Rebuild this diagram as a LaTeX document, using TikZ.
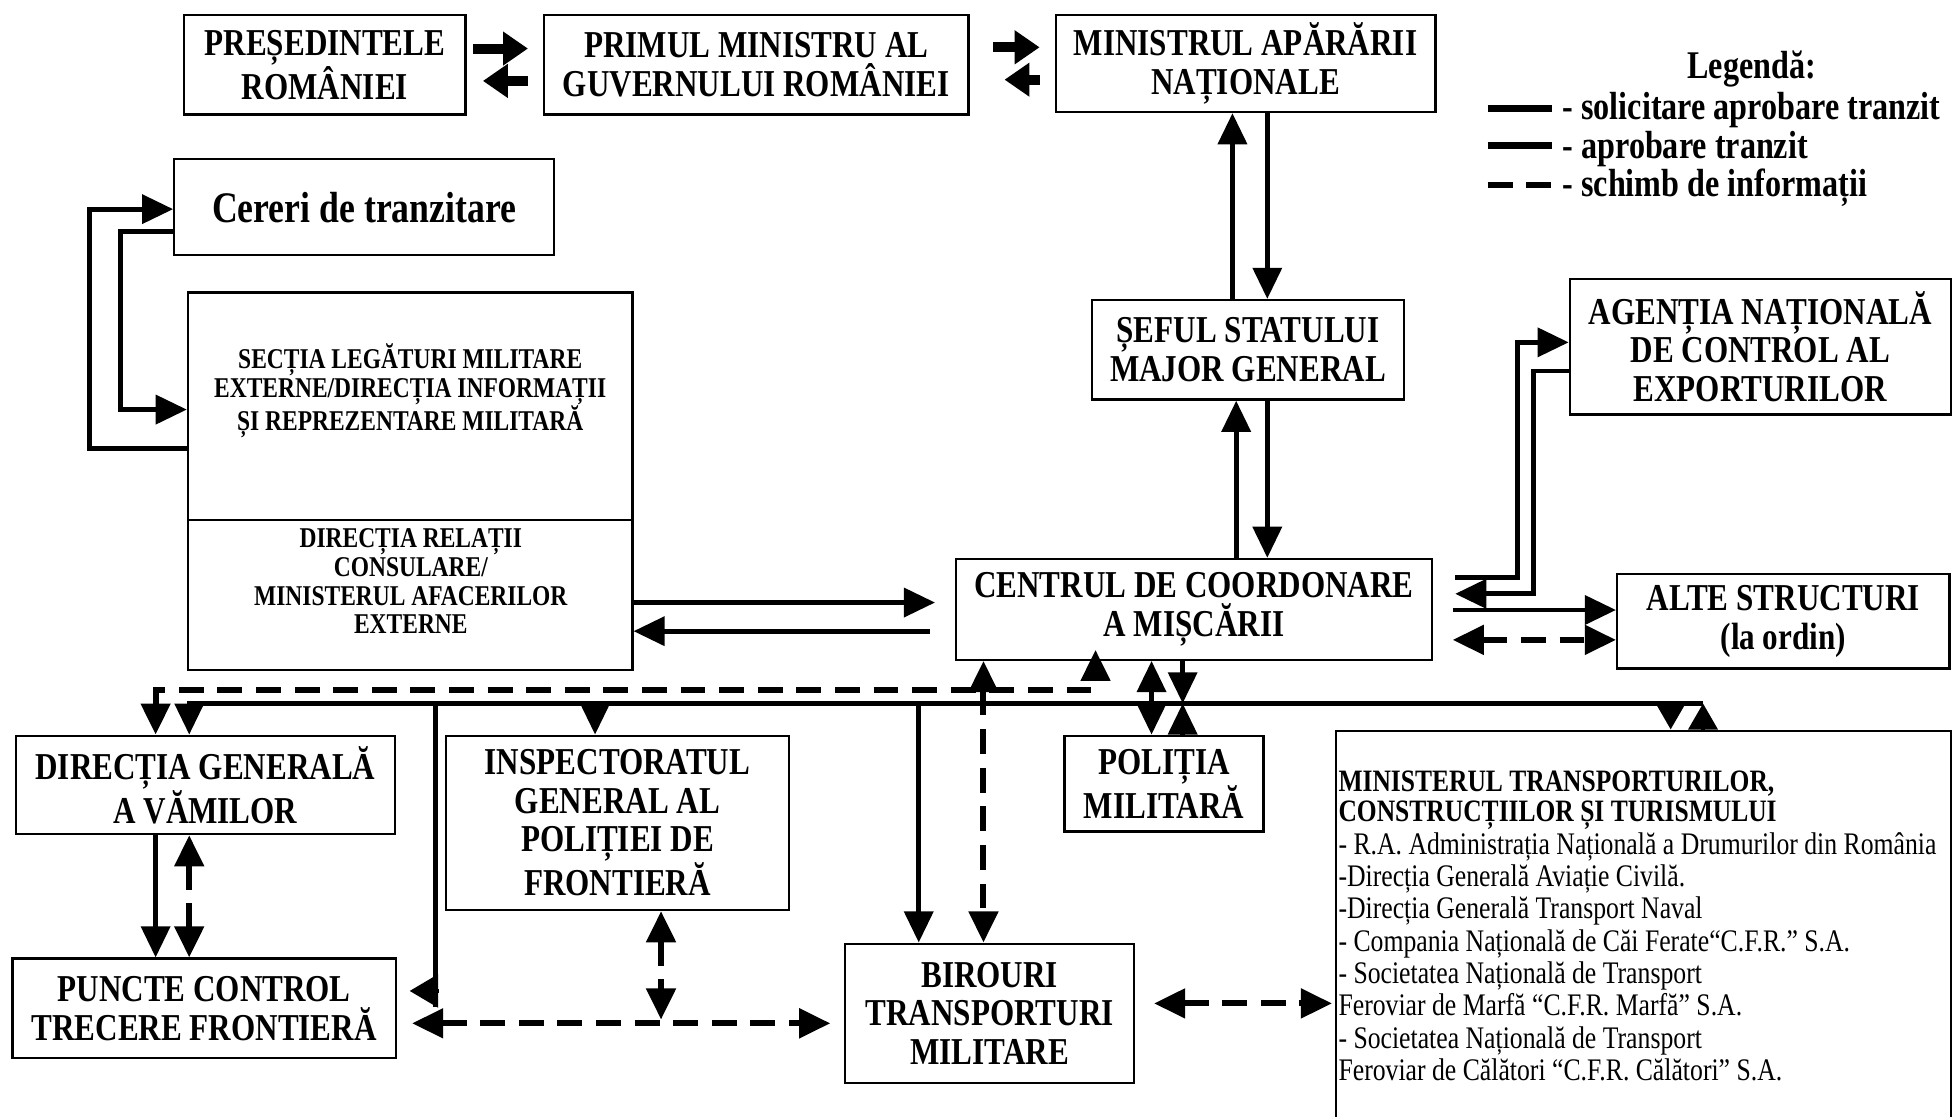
\documentclass[tikz,border=0pt]{standalone}
\usepackage{fontspec}
\setmainfont[FakeStretch=0.82]{Liberation Serif}
\usetikzlibrary{arrows.meta,calc}
\newcommand{\bigbf}{\fontsize{30.5}{31}\selectfont\bfseries}
\newcommand{\cerbf}{\fontsize{35}{36}\selectfont\bfseries}
\newcommand{\legbf}{\fontsize{31.5}{32}\selectfont\bfseries}
\newcommand{\midbf}{\fontsize{23}{23}\selectfont\bfseries}
\newcommand{\mtbf}{\fontsize{25}{24}\selectfont\bfseries}
\newcommand{\mtrm}{\fontsize{25.2}{26}\selectfont}
\begin{document}
\begin{tikzpicture}[x=1pt,y=-1pt,
  box/.style={draw,line width=1.8pt,inner sep=0pt,align=center,font=\bigbf},
  sol/.style={line width=3.9pt},
  dsh/.style={line width=4.8pt,dash pattern=on 20pt off 11pt},
  >={Triangle[length=25pt,width=23pt]},
  thk/.style={line width=8pt,-{Triangle[length=20pt,width=26pt]}},
  stip/.style={-{Triangle[length=21pt,width=23pt]}},
  lbl/.style={inner sep=0pt},
  mtl/.style={inner sep=0pt,anchor=base west,font=\mtrm}]
\fill[white] (0,0) rectangle (1568,897);
\useasboundingbox (0,0) rectangle (1568,897);

% boxes
\node[box,minimum width=226pt,minimum height=80pt] (pres) at (261,52) {PREȘEDINTELE\\ROMÂNIEI};
\node[box,minimum width=341pt,minimum height=80pt] (prim) at (607.5,52) {PRIMUL MINISTRU AL\\GUVERNULUI ROMÂNIEI};
\node[box,minimum width=305pt,minimum height=78pt] (mapn) at (1000.5,51) {MINISTRUL APĂRĂRII\\NAȚIONALE};
\node[box,font=\cerbf,minimum width=305pt,minimum height=77pt] (cereri) at (292.5,166.5) {Cereri de tranzitare};
\node[box,minimum width=357pt,minimum height=183pt] (secA) at (329.5,326.5) {};
\node[box,minimum width=357pt,minimum height=120pt] (secB) at (329.5,478) {};
\node[lbl,font=\midbf,align=center] (secAt) at (329.5,314) {SECȚIA LEGĂTURI MILITARE\\EXTERNE/DIRECȚIA INFORMAȚII\\ȘI REPREZENTARE MILITARĂ};
\node[lbl,font=\midbf,align=center] (secBt) at (330,467) {DIRECȚIA RELAȚII\\CONSULARE/\\MINISTERUL AFACERILOR\\EXTERNE};
\node[box,minimum width=251pt,minimum height=80pt] (sef) at (1002.5,281) {ȘEFUL STATULUI\\MAJOR GENERAL};
\node[box,minimum width=306pt,minimum height=109pt] (agentia) at (1414,278.5) {AGENȚIA NAȚIONALĂ\\DE CONTROL AL\\EXPORTURILOR};
\node[box,minimum width=382pt,minimum height=81pt] (centrul) at (959,489.5) {CENTRUL DE COORDONARE\\A MIȘCĂRII};
\node[box,minimum width=267pt,minimum height=76pt] (alte) at (1432.5,499) {ALTE STRUCTURI\\(la ordin)};
\node[box,minimum width=304pt,minimum height=79pt] (vamilor) at (165,630.5) {DIRECȚIA GENERALĂ\\A VĂMILOR};
\node[box,minimum width=276pt,minimum height=140pt] (inspect) at (496,661) {INSPECTORATUL\\GENERAL AL\\POLIȚIEI DE\\FRONTIERĂ};
\node[box,minimum width=160pt,minimum height=77pt] (politia) at (935,629.5) {POLIȚIA\\MILITARĂ};
\node[box,anchor=north west,minimum width=494pt,minimum height=330pt] (mt) at (1072,586) {};
\node[box,minimum width=308pt,minimum height=80pt] (puncte) at (164,810) {PUNCTE CONTROL\\TRECERE FRONTIERĂ};
\node[box,minimum width=232pt,minimum height=112pt] (birouri) at (795,814) {BIROURI\\TRANSPORTURI\\MILITARE};

% ministry text
\node[mtl,font=\mtbf] (mt1) at (1075,636) {MINISTERUL TRANSPORTURILOR,};
\node[mtl,font=\mtbf] (mt2) at (1075,660) {CONSTRUCȚIILOR ȘI TURISMULUI};
\node[mtl] (mt3) at (1075,686) {- R.A. Administrația Națională a Drumurilor din România};
\node[mtl] (mt4) at (1075,712) {-Direcția Generală Aviație Civilă.};
\node[mtl] (mt5) at (1075,738) {-Direcția Generală Transport Naval};
\node[mtl] (mt6) at (1075,764) {- Compania Națională de Căi Ferate“C.F.R.” S.A.};
\node[mtl] (mt7) at (1075,790) {- Societatea Națională de Transport};
\node[mtl] (mt8) at (1075,816) {Feroviar de Marfă “C.F.R. Marfă” S.A.};
\node[mtl] (mt9) at (1075,842) {- Societatea Națională de Transport};
\node[mtl] (mt10) at (1075,868) {Feroviar de Călători “C.F.R. Călători” S.A.};

% legend
\node[lbl,font=\legbf,anchor=base] (legt) at (1407,63) {Legendă:};
\coordinate (l1a) at (1195,87); \coordinate (l1b) at (1247,87);
\coordinate (l2a) at (1195,117); \coordinate (l2b) at (1247,117);
\coordinate (l3a) at (1195,148.5); \coordinate (l3b) at (1247,148.5);
\draw[line width=5.4pt] (l1a) -- (l1b);
\draw[line width=5.4pt] (l2a) -- (l2b);
\draw[line width=5.4pt,dash pattern=on 20pt off 11pt] (l3a) -- (l3b);
\node[lbl,font=\legbf,anchor=base west] (leg1) at (1255,96) {- solicitare aprobare tranzit};
\node[lbl,font=\legbf,anchor=base west] (leg2) at (1255,127) {- aprobare tranzit};
\node[lbl,font=\legbf,anchor=base west] (leg3) at (1255,158) {- schimb de informații};

% top row
\draw[thk] ($(pres.east)+(5,-13)$) -- ($(prim.west)+(-12,-13)$);
\draw[thk] ($(prim.west)+(-12,13)$) -- ($(pres.east)+(13,13)$);
\draw[thk] ($(prim.east)+(19,-14)$) -- ($(mapn.west)+(-12,-13)$);
\draw[thk] ($(mapn.west)+(-12,13)$) -- ($(prim.east)+(28,12)$);

% vertical chain
\coordinate (vA) at (990,0); \coordinate (vB) at (1018,0); \coordinate (vC) at (993,0);
\draw[sol,->] (sef.north -| vA) -- (mapn.south -| vA);
\draw[sol,->] (mapn.south -| vB) -- (sef.north -| vB);
\draw[sol,->] (centrul.north -| vC) -- (sef.south -| vC);
\draw[sol,->] (sef.south -| vB) -- (centrul.north -| vB);

% cereri loop
\coordinate (h360) at (0,360); \coordinate (h186) at (0,186);
\coordinate (c72) at (72,168); \coordinate (c97) at (97,329);
\draw[sol,->] (secA.west |- h360) -| (c72) -- (cereri.west |- c72);
\draw[sol,->] (cereri.west |- h186) -| (c97) -- (secA.west |- c97);

% sectia <-> centrul
\coordinate (h484) at (0,484); \coordinate (h507) at (0,507);
\draw[sol,->] (secB.east |- h484) -- ($(centrul.west |- h484)+(-16,0)$);
\draw[sol,->] ($(centrul.west |- h507)+(-20,0)$) -- (secB.east |- h507);

% agentia
\coordinate (h464) at (0,464); \coordinate (h298) at (0,298);
\coordinate (ag1) at (1219,275); \coordinate (ag2) at (1232,477);
\draw[sol,->] ($(centrul.east |- h464)+(18,0)$) -| (ag1) -- (agentia.west |- ag1);
\draw[sol,->] (agentia.west |- h298) -| (ag2) -- ($(centrul.east |- ag2)+(18,0)$);

% alte
\coordinate (h490) at (0,490); \coordinate (h514) at (0,514);
\draw[sol,->] ($(centrul.east |- h490)+(16,0)$) -- (alte.west |- h490);
\draw[dsh,<->] ($(centrul.east |- h514)+(16,0)$) -- (alte.west |- h514);

% bus
\coordinate (bL) at (152,565); \coordinate (bR) at (1368,565);
\draw[sol,->] (bR) -- (bL) -- (vamilor.north -| bL);
\coordinate (b350) at (350,565); \coordinate (p0) at (352.5,796); \coordinate (p1) at (329,796);
\draw[sol] (b350) -- (350,809);
\draw[sol,-{Triangle[length=23pt,width=26pt]}] (p0) -- (p1);
\coordinate (b478) at (478,565);
\draw[sol,->] (b478) -- (inspect.north -| b478);
\coordinate (b738) at (738,565);
\draw[sol,->] (b738) -- (birouri.north -| b738);
\coordinate (x790) at (790,0);
\draw[dsh,<->] (centrul.south -| x790) -- (birouri.north -| x790);
\coordinate (x925) at (925,0);
\draw[sol,<->] (centrul.south -| x925) -- (politia.north -| x925);
\coordinate (b950) at (950,565);
\draw[sol,->] (centrul.south -| b950) -- (b950);
\draw[sol,->] (politia.north -| b950) -- (b950);
\coordinate (b1342) at (1342,565);
\draw[sol,stip] (b1342) -- (mt.north -| b1342);
\draw[sol,stip] (mt.north -| bR) -- (bR);

% dashed bus
\coordinate (d125) at (125,554); \coordinate (d880) at (880,554); \coordinate (c880) at (880,522);
\draw[dsh,<->] (vamilor.north -| d125) -- (d125) -- (d880) -- (c880);

% vamilor <-> puncte
\coordinate (x125) at (125,0); \coordinate (x152) at (152,0);
\draw[sol,->] (vamilor.south -| x125) -- (puncte.north -| x125);
\draw[dsh,<->] (vamilor.south -| x152) -- (puncte.north -| x152);

% puncte <-> birouri, inspect
\coordinate (h822a) at (331,822); \coordinate (h822b) at (667,822);
\draw[dsh,<->] (h822a) -- (h822b);
\coordinate (ins) at (531,819);
\draw[dsh,<->] (inspect.south -| ins) -- (ins);

% birouri <-> ministerul
\coordinate (bm1) at (927,806); \coordinate (bm2) at (1070,806);
\draw[dsh,<->] (bm1) -- (bm2);
\end{tikzpicture}
\end{document}
